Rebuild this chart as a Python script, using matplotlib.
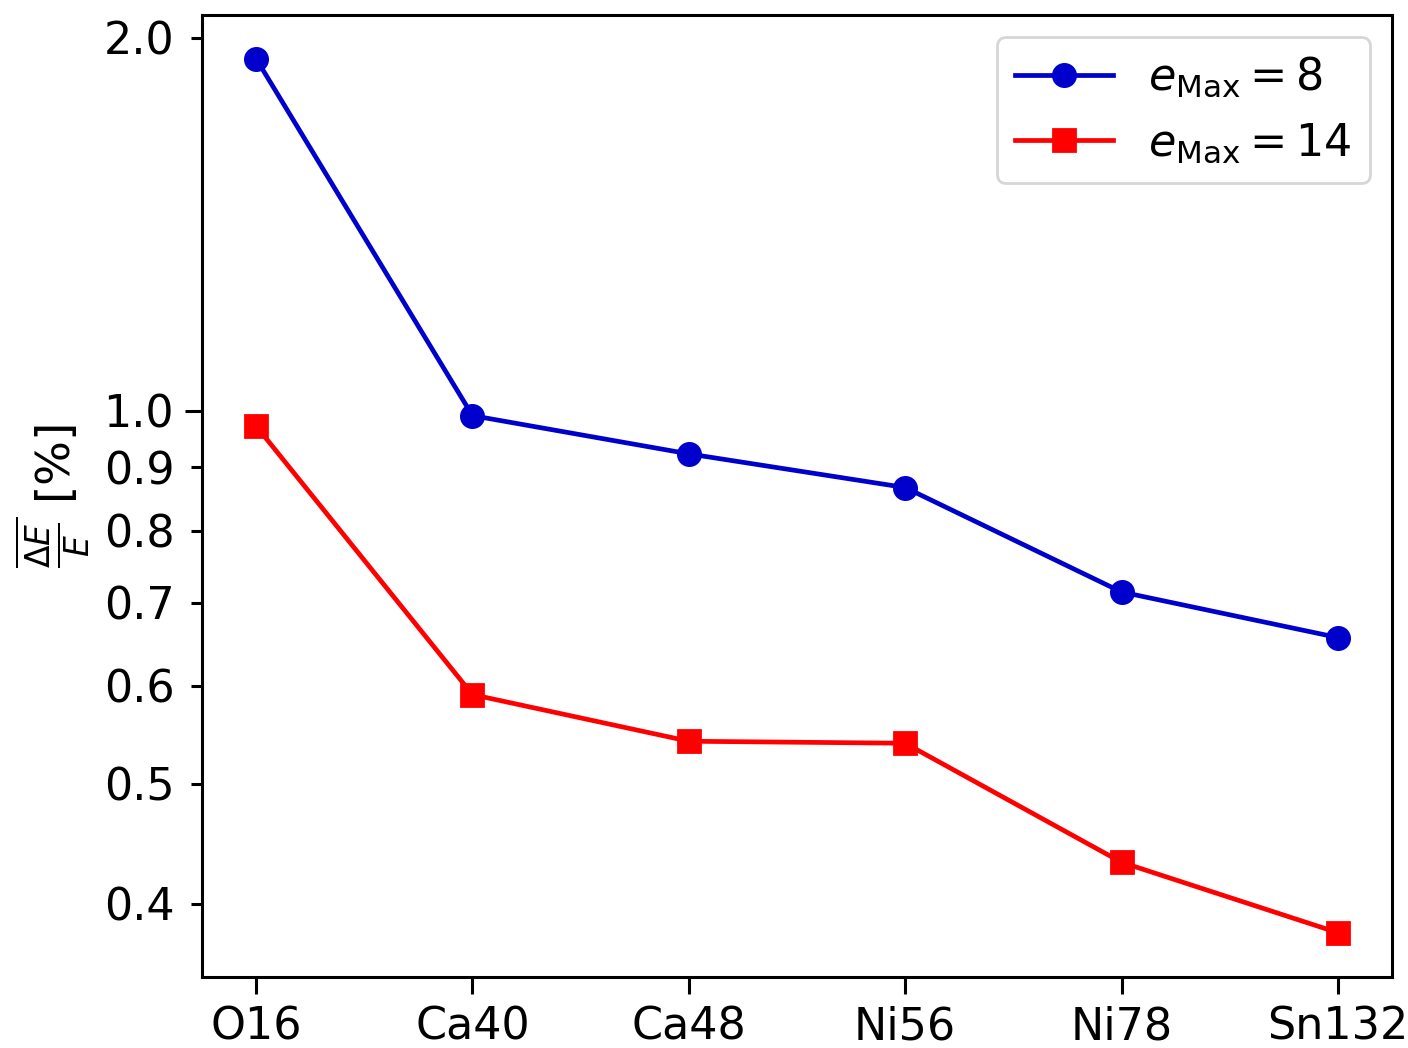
import numpy as np
import matplotlib
matplotlib.use("Agg")
import matplotlib.pyplot as plt
from matplotlib.ticker import FixedLocator, FormatStrFormatter

# nuclei and mean relative energy deviation [%]
nuclei = ["O16", "Ca40", "Ca48", "Ni56", "Ni78", "Sn132"]
dev_emax8 = [1.924, 0.991, 0.923, 0.867, 0.714, 0.656]
dev_emax14 = [0.972, 0.590, 0.541, 0.539, 0.432, 0.379]

major_ticks = [1.0]
minor_ticks = [0.4, 0.5, 0.6, 0.7, 0.8, 0.9, 2.0]

fig = plt.figure(figsize=(7.04, 5.24), dpi=200)
ax = fig.add_axes([0.1435, 0.0677, 0.8451, 0.918])

x = np.arange(len(nuclei))
ax.plot(x, dev_emax8, "-o", color="#0000cc", lw=1.7, ms=8, label=r"$e_{\mathrm{Max}} = 8$")
ax.plot(x, dev_emax14, "-s", color="#ff0000", lw=1.7, ms=8, label=r"$e_{\mathrm{Max}} = 14$")

ax.set_yscale("log")
ax.set_ylim(0.349, 2.087)
ax.set_xlim(-0.25, 5.25)
ax.yaxis.set_major_locator(FixedLocator(major_ticks))
ax.yaxis.set_minor_locator(FixedLocator(minor_ticks))
ax.yaxis.set_major_formatter(FormatStrFormatter("%.1f"))
ax.yaxis.set_minor_formatter(FormatStrFormatter("%.1f"))
ax.set_xticks(x)
ax.set_xticklabels(nuclei)

ax.tick_params(which="major", length=6.2, width=1.1, pad=4.0, labelsize=16)
ax.tick_params(which="minor", length=4.0, width=1.1, pad=6.0, labelsize=16)
for s in ax.spines.values():
    s.set_linewidth(1.1)

ax.set_ylabel(r"$\overline{\frac{\Delta E}{E}}$ [%]", fontsize=17, labelpad=4)
ax.legend(loc="upper right", fontsize=16, handlelength=2.2, borderaxespad=0.5)

fig.savefig("out.png", dpi=200)
